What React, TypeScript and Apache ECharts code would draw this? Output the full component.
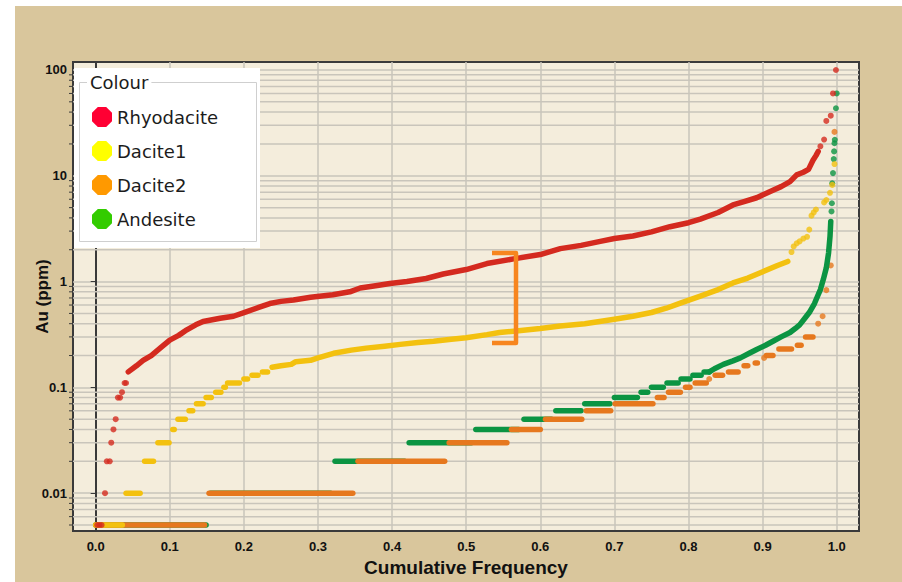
import React, { useEffect, useRef } from "react";
import * as echarts from "echarts";

// ---------- names & colours ----------
const seriesNames = ["Rhyodacite", "Dacite1", "Dacite2", "Andesite"];
const plotColors = ["#d42a1f", "#f3c10f", "#e6781e", "#0b9442"];
const legendColors = ["#ff0033", "#ffff00", "#ff9900", "#33cc00"];

// ---------- axis ----------
const xMin = -0.0306;
const xMax = 1.0301;
const yMin = 0.004379;
const yMax = 119;
const minorGridValues = [
  0.005, 0.006, 0.007, 0.008, 0.009,
  0.02, 0.03, 0.04, 0.05, 0.06, 0.07, 0.08, 0.09,
  0.2, 0.3, 0.4, 0.5, 0.6, 0.7, 0.8, 0.9,
  2, 3, 4, 5, 6, 7, 8, 9,
  20, 30, 40, 50, 60, 70, 80, 90,
];

// ---------- data: [cumFreq, Au] and steps [fromFreq, toFreq, Au] ----------
const rhyodaciteDots = [
  [0.002, 0.005], [0.005, 0.005], [0.008, 0.005], [0.0126, 0.01], [0.015, 0.02],
  [0.019, 0.02], [0.021, 0.03], [0.024, 0.04], [0.027, 0.05], [0.03, 0.08],
  [0.033, 0.08], [0.0355, 0.09], [0.039, 0.11], [0.041, 0.11],
  [0.978, 19], [0.983, 22], [0.986, 33], [0.992, 37], [0.995, 60], [0.999, 100],
];
const rhyodaciteCurve = [
  [0.044, 0.14], [0.055, 0.16], [0.064, 0.18], [0.075, 0.2], [0.087, 0.235],
  [0.1, 0.28], [0.112, 0.31], [0.123, 0.35], [0.135, 0.39], [0.145, 0.42],
  [0.168, 0.45], [0.186, 0.47], [0.204, 0.52], [0.22, 0.57], [0.235, 0.62],
  [0.25, 0.65], [0.267, 0.67], [0.29, 0.71], [0.32, 0.75], [0.343, 0.8],
  [0.357, 0.87], [0.38, 0.92], [0.397, 0.96], [0.42, 1.0], [0.446, 1.07],
  [0.469, 1.18], [0.5, 1.3], [0.528, 1.48], [0.564, 1.64], [0.6, 1.8],
  [0.627, 2.05], [0.655, 2.2], [0.681, 2.4], [0.7, 2.55], [0.725, 2.7],
  [0.75, 2.95], [0.775, 3.3], [0.8, 3.6], [0.816, 3.9], [0.84, 4.5],
  [0.86, 5.3], [0.875, 5.7], [0.892, 6.2], [0.914, 7.3], [0.925, 7.9],
  [0.937, 8.8], [0.946, 10.2], [0.955, 10.8], [0.962, 11.5], [0.968, 14],
  [0.972, 15.5], [0.975, 17],
];

const dacite1Steps = [
  [0.0, 0.036, 0.005], [0.041, 0.06, 0.01], [0.066, 0.078, 0.02], [0.084, 0.099, 0.03],
  [0.104, 0.106, 0.04], [0.111, 0.121, 0.05], [0.126, 0.131, 0.06], [0.136, 0.145, 0.07],
  [0.149, 0.156, 0.08], [0.162, 0.169, 0.09], [0.173, 0.175, 0.1], [0.178, 0.194, 0.11],
  [0.2, 0.205, 0.12], [0.211, 0.219, 0.13], [0.225, 0.232, 0.14],
];
const dacite1Curve = [
  [0.238, 0.155], [0.25, 0.16], [0.264, 0.165], [0.27, 0.175], [0.29, 0.18],
  [0.3, 0.19], [0.321, 0.21], [0.345, 0.225], [0.365, 0.235], [0.39, 0.245],
  [0.411, 0.255], [0.435, 0.265], [0.456, 0.273], [0.48, 0.285], [0.5, 0.295],
  [0.528, 0.315], [0.545, 0.33], [0.564, 0.34], [0.6, 0.36], [0.627, 0.38],
  [0.66, 0.4], [0.7, 0.44], [0.725, 0.47], [0.75, 0.51], [0.77, 0.56],
  [0.79, 0.63], [0.816, 0.73], [0.84, 0.84], [0.86, 0.97], [0.88, 1.08],
  [0.897, 1.21], [0.92, 1.42], [0.934, 1.55],
];
const dacite1Dots = [
  [0.939, 1.9], [0.942, 2.15], [0.946, 2.3], [0.95, 2.4], [0.955, 2.55],
  [0.96, 2.65], [0.963, 3.1], [0.966, 4.2], [0.969, 4.5], [0.972, 4.8],
  [0.983, 5.6], [0.986, 5.9], [0.991, 6.9], [0.994, 8.2], [0.997, 12.9],
];

const dacite2Steps = [
  [0.0, 0.147, 0.005], [0.153, 0.347, 0.01], [0.354, 0.471, 0.02], [0.477, 0.555, 0.03],
  [0.561, 0.6, 0.04], [0.607, 0.656, 0.05], [0.662, 0.695, 0.06], [0.701, 0.752, 0.07],
  [0.758, 0.767, 0.08], [0.773, 0.789, 0.09], [0.796, 0.802, 0.1], [0.809, 0.824, 0.11],
  [0.836, 0.846, 0.13], [0.854, 0.867, 0.14], [0.875, 0.88, 0.16], [0.89, 0.893, 0.17],
  [0.905, 0.914, 0.2], [0.922, 0.939, 0.23], [0.947, 0.952, 0.25], [0.958, 0.968, 0.3],
];
const dacite2Dots = [
  [0.828, 0.12], [0.902, 0.19], [0.975, 0.4], [0.981, 0.47], [0.986, 0.83],
  [0.992, 1.42], [0.997, 26],
];

const andesiteSteps = [
  [0.0, 0.149, 0.005], [0.155, 0.317, 0.01], [0.323, 0.417, 0.02], [0.423, 0.507, 0.03],
  [0.513, 0.571, 0.04], [0.578, 0.615, 0.05], [0.621, 0.655, 0.06], [0.66, 0.694, 0.07],
  [0.7, 0.731, 0.08], [0.736, 0.745, 0.09], [0.75, 0.766, 0.1], [0.771, 0.786, 0.11],
  [0.79, 0.802, 0.12], [0.806, 0.817, 0.13], [0.821, 0.828, 0.14],
];
const andesiteCurve = [
  [0.828, 0.14], [0.835, 0.15], [0.847, 0.165], [0.86, 0.178], [0.87, 0.19],
  [0.882, 0.21], [0.892, 0.228], [0.904, 0.25], [0.914, 0.273], [0.925, 0.3],
  [0.937, 0.33], [0.944, 0.36], [0.95, 0.39], [0.957, 0.45], [0.963, 0.51],
  [0.97, 0.62], [0.975, 0.75], [0.978, 0.84], [0.982, 1.05], [0.986, 1.35],
  [0.989, 1.86], [0.991, 2.68], [0.992, 3.7],
];
const andesiteDots = [
  [0.993, 4.6], [0.9935, 5.5], [0.994, 8.5], [0.995, 10.6], [0.996, 14.4],
  [0.9965, 17], [0.997, 20.3], [0.9975, 21.9], [0.999, 43.5], [1.0, 60],
];

// ---------- helpers ----------
const axisFont = "'Liberation Sans', Arial, sans-serif";
const legendFont = "'DejaVu Sans', Verdana, sans-serif";
const gridColor = "#c9c5bb";
const octagon = "path://M29,0L71,0L100,29L100,71L71,100L29,100L0,71L0,29Z";

function isPow10(v: number) {
  const l = Math.log10(v);
  return Math.abs(l - Math.round(l)) < 1e-6;
}

function stepSeries(name: string, color: string, steps: number[][]) {
  return {
    type: "custom",
    name,
    coordinateSystem: "cartesian2d",
    silent: true,
    clip: false,
    encode: { x: [0, 1], y: 2 },
    data: steps,
    renderItem: (_p: any, api: any) => {
      const a = api.coord([api.value(0), api.value(2)]);
      const b = api.coord([api.value(1), api.value(2)]);
      return {
        type: "line",
        shape: { x1: a[0], y1: a[1], x2: b[0], y2: b[1] },
        style: { stroke: color, lineWidth: 5.5, lineCap: "round" },
      };
    },
  };
}
function curveSeries(name: string, color: string, data: number[][]) {
  return {
    type: "line",
    name,
    data,
    symbol: "none",
    showSymbol: false,
    silent: true,
    itemStyle: { color },
    lineStyle: { color, width: 5.5, cap: "round", join: "round" },
  };
}
function dotSeries(name: string, color: string, data: number[][]) {
  return {
    type: "scatter",
    name,
    data,
    symbol: "circle",
    symbolSize: 6,
    silent: true,
    itemStyle: { color },
  };
}

export default function App() {
  const ref = useRef<HTMLDivElement>(null);
  useEffect(() => {
    if (!ref.current) return;
    const chart = echarts.init(ref.current, null, { renderer: "svg" });
    const [cR, cD1, cD2, cA] = plotColors;
    const option: any = {
      animation: false,
      backgroundColor: "#d9c69c",
      grid: {
        left: 73, top: 62, right: 43, bottom: 50,
        show: true, backgroundColor: "#f4eddc", borderColor: "#3a3a3a", borderWidth: 2,
      },
      xAxis: {
        type: "value", min: xMin, max: xMax, splitNumber: 11,
        axisLine: { show: true, lineStyle: { color: "#3a3a3a", width: 2 } },
        axisTick: { show: false },
        axisLabel: {
          margin: 9, fontFamily: axisFont, fontWeight: "bold", fontSize: 13, color: "#111",
          formatter: (v: number) => (Math.abs(v * 10 - Math.round(v * 10)) < 1e-6 ? v.toFixed(1) : ""),
        },
        splitLine: { show: true, showMinLine: false, showMaxLine: false, lineStyle: { color: gridColor, width: 1.5 } },
        name: "Cumulative Frequency", nameLocation: "middle", nameGap: 24,
        nameTextStyle: { fontFamily: axisFont, fontWeight: "bold", fontSize: 19, color: "#111" },
      },
      yAxis: {
        type: "log", logBase: 10, min: yMin, max: yMax,
        axisLine: { show: true, lineStyle: { color: "#3a3a3a", width: 2 } },
        axisTick: { show: true, length: 5, lineStyle: { color: "#3a3a3a", width: 1 } },
        axisLabel: {
          margin: 6, fontFamily: axisFont, fontWeight: "bold", fontSize: 13, color: "#111",
          formatter: (v: number) => (isPow10(v) ? (v >= 1 ? String(Math.round(v)) : String(+v.toPrecision(1))) : ""),
        },
        splitLine: { show: true, showMinLine: false, showMaxLine: false, lineStyle: { color: gridColor, width: 1.5 } },
        name: "Au (ppm)", nameLocation: "middle", nameGap: 22, nameRotate: 90, nameMoveOverlap: false,
        nameTextStyle: { fontFamily: axisFont, fontWeight: "bold", fontSize: 17, color: "#111" },
      },
      legend: {
        left: 87, top: 102, orient: "vertical", itemGap: 14, itemWidth: 20, itemHeight: 20,
        icon: octagon, selectedMode: false, z: 60,
        itemStyle: { borderWidth: 0 },
        data: seriesNames.map((n, i) => ({ name: n, itemStyle: { color: legendColors[i], borderWidth: 0 } })),
        textStyle: { fontFamily: legendFont, fontSize: 18, color: "#1c1c1c", lineHeight: 20 },
      },
      graphic: [
        { type: "rect", z: 100, shape: { x: 0, y: 0, width: 902, height: 6 }, style: { fill: "#ffffff" } },
        { type: "rect", z: 100, shape: { x: 0, y: 0, width: 15, height: 582 }, style: { fill: "#ffffff" } },
        { type: "rect", z: 50, shape: { x: 74, y: 68, width: 186, height: 180 }, style: { fill: "#ffffff" } },
        { type: "rect", z: 51, shape: { x: 79.5, y: 82.5, width: 177, height: 159 }, style: { fill: "none", stroke: "#cfcfcf", lineWidth: 1 } },
        {
          type: "text", z: 52, x: 87, y: 82,
          style: {
            text: "Colour", fontFamily: legendFont, fontSize: 18, fill: "#1c1c1c",
            verticalAlign: "middle", backgroundColor: "#ffffff", padding: [0, 3, 0, 3],
          },
        },
        {
          type: "polyline", z: 40,
          shape: { points: [[492, 253], [516, 253], [516, 343], [492, 343]] },
          style: { fill: "none", stroke: "#f7861f", lineWidth: 4.5, lineJoin: "round" },
        },
      ],
      series: [
        {
          type: "custom",
          name: "minor",
          coordinateSystem: "cartesian2d",
          silent: true,
          clip: false,
          encode: { x: 0, y: 1 },
          data: minorGridValues.map((v) => [0, v]),
          renderItem: (_p: any, api: any) => {
            const v = api.value(1);
            const a = api.coord([xMin, v]);
            const b = api.coord([xMax, v]);
            return {
              type: "group",
              children: [
                { type: "line", shape: { x1: a[0], y1: a[1], x2: b[0], y2: b[1] }, style: { stroke: gridColor, lineWidth: 1.5 } },
                { type: "line", shape: { x1: a[0] - 4, y1: a[1], x2: a[0], y2: a[1] }, style: { stroke: "#3a3a3a", lineWidth: 1 } },
              ],
            };
          },
        },
        stepSeries("Andesite", cA, andesiteSteps),
        curveSeries("Andesite", cA, andesiteCurve),
        dotSeries("Andesite", cA, andesiteDots),
        stepSeries("Dacite2", cD2, dacite2Steps),
        dotSeries("Dacite2", cD2, dacite2Dots),
        stepSeries("Dacite1", cD1, dacite1Steps),
        curveSeries("Dacite1", cD1, dacite1Curve),
        dotSeries("Dacite1", cD1, dacite1Dots),
        curveSeries("Rhyodacite", cR, rhyodaciteCurve),
        dotSeries("Rhyodacite", cR, rhyodaciteDots),
      ],
    };
    chart.setOption(option);
    return () => chart.dispose();
  }, []);
  return <div ref={ref} style={{ position: "fixed", left: 0, top: 0, width: 902, height: 582 }} />;
}
